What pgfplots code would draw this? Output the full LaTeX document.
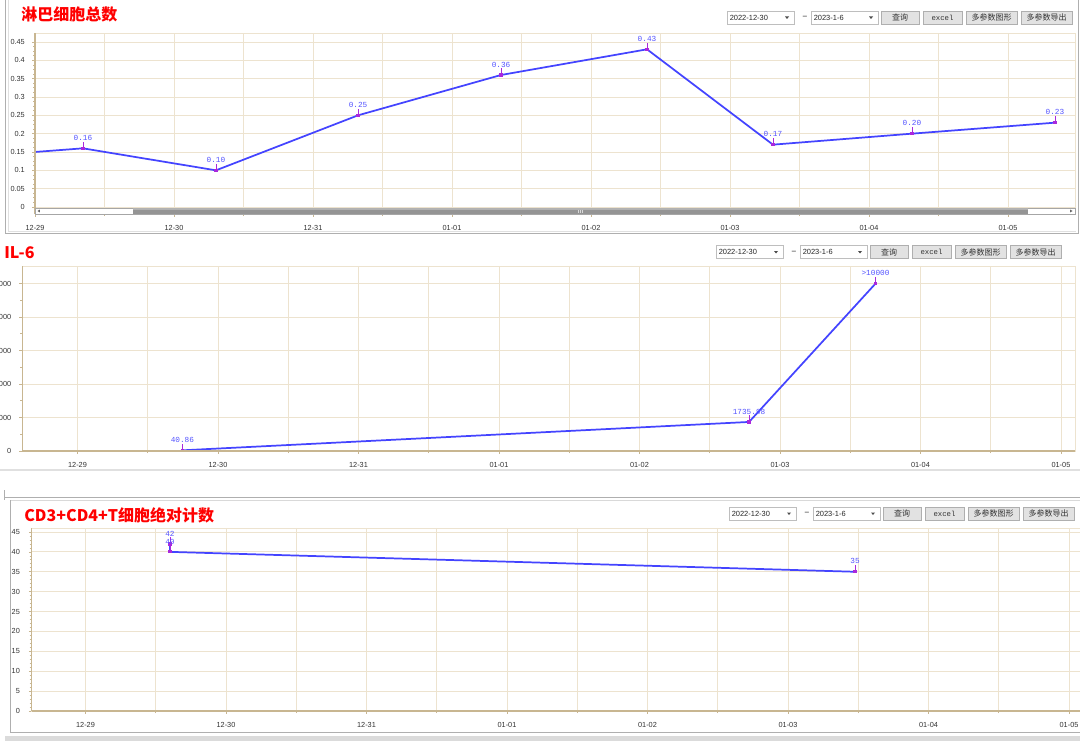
\documentclass[border=0pt]{standalone}
\usepackage{fontspec}
\setmainfont{Liberation Sans}
\newfontfamily\cjk{Noto Sans CJK SC}
\newfontfamily\monof{Liberation Mono}
\usepackage{pgfplots}
\pgfplotsset{compat=1.18}

\definecolor{gridc}{RGB}{237,227,207}
\definecolor{axisc}{RGB}{200,182,145}
\definecolor{linec}{RGB}{68,68,255}
\definecolor{markc}{RGB}{170,40,220}
\definecolor{labc}{RGB}{85,85,255}
\definecolor{btnf}{RGB}{226,226,226}
\definecolor{btnb}{RGB}{175,175,175}
\definecolor{boxb}{RGB}{190,190,190}
\definecolor{framec}{RGB}{175,175,175}

\pgfdeclareplotmark{pin}{%
  \pgfpathmoveto{\pgfqpoint{0pt}{0pt}}%
  \pgfpathlineto{\pgfqpoint{0pt}{5pt}}%
  \pgfusepathqstroke
  \pgfpathrectangle{\pgfqpoint{-1.2pt}{-1.2pt}}{\pgfqpoint{2.4pt}{2.4pt}}%
  \pgfusepathqfill
}

\pgfplotsset{
 panel/.style={
  scale only axis, anchor=north west,
  axis line style={draw=gridc, line width=0.5pt},
  xmajorgrids=true, xminorgrids=true, ymajorgrids=true, yminorgrids=false,
  major grid style={draw=gridc, line width=0.7pt},
  minor grid style={draw=gridc, line width=0.7pt},
  every tick/.style={draw=axisc, line width=0.5pt},
  major tick length=2.2pt, minor tick length=1.5pt,
  tick align=outside, tick pos=left,
  xtick={0,1,2,3,4,5,6,7},
  minor xtick={-0.5,0.5,1.5,2.5,3.5,4.5,5.5,6.5,7.5},
  xticklabels={12-29,12-30,12-31,01-01,01-02,01-03,01-04,01-05},
  every tick label/.append style={font=\fontsize{5.5}{6}\selectfont, text=black!80, inner sep=0pt},
  xticklabel style={anchor=center, yshift=-8pt},
  scaled y ticks=false,
  clip mode=individual,
 },
 series/.style={color=linec, line width=1.3pt, mark=none},
 pts/.style={only marks, mark=pin, mark options={draw=markc, fill=markc, line width=0.6pt},
   nodes near coords, point meta=explicit symbolic,
   every node near coord/.append style={font=\monof\fontsize{5.8}{6}\selectfont, text=labc, anchor=south, inner sep=0pt, yshift=5.5pt}},
}

\newcommand{\ctrlrow}[2]{%
  \draw[boxb, fill=white, line width=0.5pt] (#1,#2) rectangle (#1+67,#2+13);
  \node[anchor=west, font=\fontsize{5.6}{6}\selectfont, inner sep=0pt, text=black!85] at (#1+2.5,#2+6.5) {2022-12-30};
  \fill[black!70] (#1+58,#2+5.5) -- (#1+62,#2+5.5) -- (#1+60,#2+8) -- cycle;
  \node[font=\fontsize{5.6}{6}\selectfont, inner sep=0pt] at (#1+78,#2+6.5) {--};
  \draw[boxb, fill=white, line width=0.5pt] (#1+84,#2) rectangle (#1+151,#2+13);
  \node[anchor=west, font=\fontsize{5.6}{6}\selectfont, inner sep=0pt, text=black!85] at (#1+86.5,#2+6.5) {2023-1-6};
  \fill[black!70] (#1+142,#2+5.5) -- (#1+146,#2+5.5) -- (#1+144,#2+8) -- cycle;
  \draw[btnb, fill=btnf, line width=0.5pt] (#1+154,#2) rectangle (#1+192,#2+13);
  \node[font=\cjk\fontsize{6}{6}\selectfont, inner sep=0pt, text=black!80] at (#1+173,#2+6.5) {查询};
  \draw[btnb, fill=btnf, line width=0.5pt] (#1+196,#2) rectangle (#1+235,#2+13);
  \node[font=\monof\fontsize{5.5}{6}\selectfont, inner sep=0pt, text=black!80] at (#1+215.5,#2+6.5) {excel};
  \draw[btnb, fill=btnf, line width=0.5pt] (#1+239,#2) rectangle (#1+290,#2+13);
  \node[font=\cjk\fontsize{6}{6}\selectfont, inner sep=0pt, text=black!80] at (#1+264.5,#2+6.5) {多参数图形};
  \draw[btnb, fill=btnf, line width=0.5pt] (#1+294,#2) rectangle (#1+345,#2+13);
  \node[font=\cjk\fontsize{6}{6}\selectfont, inner sep=0pt, text=black!80] at (#1+319.5,#2+6.5) {多参数导出};
}

\begin{document}
\begin{tikzpicture}
\path[use as bounding box, clip] (0,0) rectangle (810pt,558pt);
\fill[white] (0,0) rectangle (810pt,558pt);

% ---------- Panel 1 ----------
\begin{axis}[panel, name=p1, at={(26.25pt,533.25pt)}, width=780pt, height=135.75pt,
  xmin=0, xmax=7.482, ymin=-0.0191, ymax=0.4745,
  ytick={0,0.05,0.1,0.15,0.2,0.25,0.3,0.35,0.4,0.45},
  yticklabels={0,0.05,0.1,0.15,0.2,0.25,0.3,0.35,0.4,0.45},
  minor y tick num=3,
  yticklabel style={anchor=east, xshift=-5.25pt}]
\addplot[series] coordinates {(-0.66,0.131) (0.345,0.16) (1.302,0.10) (2.324,0.25) (3.353,0.36) (4.403,0.43) (5.309,0.17) (6.309,0.20) (7.338,0.23)};
\addplot[pts] table[meta=label] {
x y label
0.345 0.16 0.16
1.302 0.10 0.10
2.324 0.25 0.25
3.353 0.36 0.36
4.403 0.43 0.43
5.309 0.17 0.17
6.309 0.20 0.20
7.338 0.23 0.23
};
\end{axis}
\draw[axisc, line width=1pt] (p1.south west) -- (p1.north west);

% ---------- Panel 2 ----------
\begin{axis}[panel, name=p2, at={(16.8pt,358.5pt)}, width=789.45pt, height=138.75pt,
  xmin=-0.392, xmax=7.100, ymin=0, ymax=11051,
  ytick={0,2000,4000,6000,8000,10000},
  yticklabels={0,2000,4000,6000,8000,10000},
  minor y tick num=1,
  yticklabel style={anchor=east, xshift=-6pt}]
\addplot[series] coordinates {(0.747,40.86) (4.78,1735.98) (5.68,10000)};
\addplot[pts] table[meta=label] {
x y label
0.747 40.86 40.86
4.78 1735.98 1735.98
5.68 10000 >10000
};
\end{axis}
\draw[axisc, line width=1pt] (p2.south west) -- (p2.north west);
\draw[axisc, line width=1.4pt] (p2.south west) -- (p2.south east);

% ---------- Panel 3 ----------
\begin{axis}[panel, name=p3, at={(23.775pt,162pt)}, width=790pt, height=137.25pt,
  xmin=-0.383, xmax=7.114, ymin=0, ymax=46.0,
  ytick={0,5,10,15,20,25,30,35,40,45},
  yticklabels={0,5,10,15,20,25,30,35,40,45},
  minor y tick num=4,
  yticklabel style={anchor=east, xshift=-6.5pt}]
\addplot[series] coordinates {(0.601,42) (0.601,40) (5.477,35)};
\addplot[pts] table[meta=label] {
x y label
0.601 42 42
0.601 40 40
5.477 35 35
};
\end{axis}
\draw[axisc, line width=1pt] (p3.south west) -- (p3.north west);
\draw[axisc, line width=1.4pt] (p3.south west) -- (p3.south east);

% ---------- decorations (pixel coordinates) ----------
\begin{scope}[x=0.75pt, y=-0.75pt, yshift=558pt]
  % panel 1 frame
  \draw[framec, line width=0.6pt] (5.5,-2) -- (5.5,233.5) -- (1078,233.5) -- (1078,-2);
  \draw[black!12, line width=0.6pt] (8,-2) -- (8,231.5) -- (1076,231.5);
  % scrollbar
  \fill[white] (35,208) rectangle (1075,214);
  \draw[black!35, line width=0.4pt] (35,208) rectangle (1075,214);
  \fill[black!42] (133,208.4) rectangle (1028,213.6);
  \fill[black!30] (133,208.4) rectangle (1028,210.2);
  \fill[black!60] (37.5,211) -- (39.8,209.6) -- (39.8,212.4) -- cycle;
  \fill[black!60] (1072.5,211) -- (1070.2,209.6) -- (1070.2,212.4) -- cycle;
  \draw[black!15, line width=0.3pt] (578.5,209.5) -- (578.5,212.5) (580.5,209.5) -- (580.5,212.5) (582.5,209.5) -- (582.5,212.5);
  % titles
  \node[anchor=west, font=\cjk\bfseries\fontsize{12}{12}\selectfont, text=red, inner sep=0pt] at (21,14) {淋巴细胞总数};
  \node[anchor=west, font=\cjk\bfseries\fontsize{12}{12}\selectfont, text=red, inner sep=0pt] at (4,252.5) {IL-6};
  \node[anchor=west, font=\cjk\bfseries\fontsize{12}{12}\selectfont, text=red, inner sep=0pt] at (24,515) {CD3+CD4+T细胞绝对计数};
  % control rows
  \ctrlrow{727}{11}
  \ctrlrow{716}{245.5}
  \ctrlrow{729}{507}
  % separators between panel 2 and 3
  \draw[black!12, line width=0.8pt] (0,470) -- (1080,470);
  \draw[framec, line width=0.6pt] (4,497) -- (1080,497);
  \draw[black!15, line width=0.6pt] (10,500) -- (1080,500);
  \draw[framec, line width=0.6pt] (4,490) -- (4,500);
  % panel 3 frame
  \draw[framec, line width=0.6pt] (10,500) -- (10,732) -- (1080,732);
  \fill[black!14] (5,736) rectangle (1080,741);
\end{scope}
\end{tikzpicture}
\end{document}
